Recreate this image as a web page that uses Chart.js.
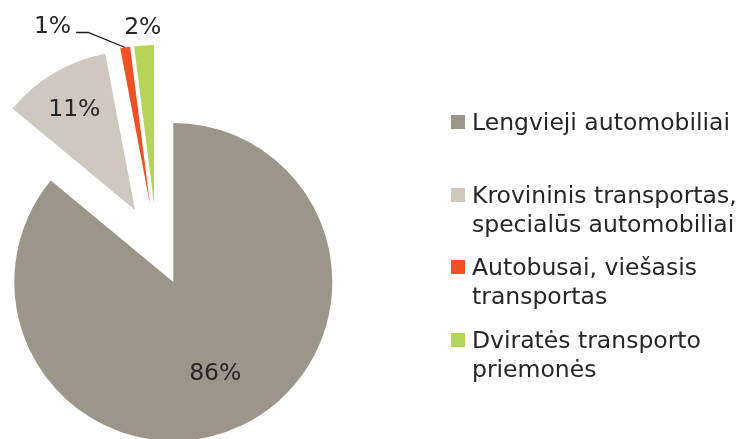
<!DOCTYPE html>
<html>
<head>
<meta charset="utf-8">
<script src="https://cdn.jsdelivr.net/npm/chart.js@4/dist/chart.umd.min.js"></script>
<style>
  body { margin: 0; background: #fff; }
  #wrap { position: relative; width: 744px; height: 439px; overflow: hidden; }
  #legend { position: absolute; left: 451px; top: 0; }
  .item { position: absolute; left: 0; width: 293px; }
  .box { position: absolute; left: 0; top: 6.6px; width: 14px; height: 14px; }
  .txt { margin-left: 21px; font: 23.5px "DejaVu Sans", Verdana, sans-serif; line-height: 29px;
         color: #262626; white-space: pre-line; }
</style>
</head>
<body>
<div id="wrap">
  <canvas id="pie" width="744" height="439"></canvas>
  <div id="legend"></div>
</div>
<script>
// categories and their shares (%)
var categories = [
  'Lengvieji automobiliai',
  'Krovininis transportas,\nspecialūs automobiliai',
  'Autobusai, viešasis\ntransportas',
  'Dviratės transporto\npriemonės'
];
var shares = [86, 11, 1, 2];
var colors = ['#9d948a', '#d0c8be', '#ef5124', '#b4d45a'];

// html legend
var legend = document.getElementById('legend');
var legendTops = [108.4, 181.4, 253.4, 326.4];
categories.forEach(function (c, i) {
  var item = document.createElement('div');
  item.className = 'item';
  item.style.top = legendTops[i] + 'px';
  item.innerHTML = '<span class="box" style="background:' + colors[i] + '"></span>';
  var t = document.createElement('div');
  t.className = 'txt';
  t.textContent = c;
  item.appendChild(t);
  legend.appendChild(item);
});

// pulls every slice away from the centre and writes the percent labels
var explodePlugin = {
  id: 'explode',
  beforeDatasetsDraw: function (chart, args, opts) {
    var arcs = chart.getDatasetMeta(0).data;
    arcs.forEach(function (arc, i) {
      var mid = (arc.startAngle + arc.endAngle) / 2;
      var d = opts.distance[i];
      arc._dx = Math.cos(mid) * d;
      arc._dy = Math.sin(mid) * d;
      arc.x += arc._dx;
      arc.y += arc._dy;
    });
  },
  afterDatasetsDraw: function (chart, args, opts) {
    var ctx = chart.ctx;
    var meta = chart.getDatasetMeta(0);
    var total = shares.reduce(function (a, b) { return a + b; }, 0);
    var size = 23.5;
    ctx.save();
    ctx.font = size + 'px "DejaVu Sans", Verdana, sans-serif';
    ctx.fillStyle = '#262626';
    ctx.textBaseline = 'alphabetic';
    meta.data.forEach(function (arc, i) {
      var mid = (arc.startAngle + arc.endAngle) / 2;
      var p = opts.labels[i];
      var r = arc.outerRadius * p.f;
      var x = arc.x + Math.cos(mid) * r;
      var y = arc.y + Math.sin(mid) * r;
      var text = Math.round(shares[i] / total * 100) + '%';
      if (p.callout) {
        var ex = x + p.callout[0], ey = y + p.callout[1];
        var hx = ex + p.callout[2];
        ctx.strokeStyle = '#1a1a1a';
        ctx.lineWidth = 1.3;
        ctx.beginPath();
        ctx.moveTo(x, y);
        ctx.lineTo(ex, ey);
        ctx.lineTo(hx, ey);
        ctx.stroke();
        ctx.textAlign = 'right';
        ctx.fillText(text, hx - 5, ey + 1);
      } else {
        ctx.textAlign = 'center';
        ctx.fillText(text, x, y + size * 0.3645);
      }
    });
    ctx.restore();
    meta.data.forEach(function (arc) {
      arc.x -= arc._dx;
      arc.y -= arc._dy;
    });
  }
};

new Chart(document.getElementById('pie').getContext('2d'), {
  type: 'pie',
  data: {
    labels: categories,
    datasets: [{
      data: shares,
      backgroundColor: colors,
      borderWidth: 0,
      radius: 159
    }]
  },
  options: {
    responsive: false,
    animation: false,
    events: [],
    layout: {
      padding: { left: 0, right: 430.6, top: 54.2, bottom: 0 }
    },
    plugins: {
      legend: { display: false },
      tooltip: { enabled: false },
      explode: {
        distance: [39, 42.6, 42.6, 42.6],
        labels: [
          { f: 0.62 },
          { f: 0.75 },
          { f: 1.0, callout: [-37, -15, -12] },
          { f: 1.126 }
        ]
      }
    }
  },
  plugins: [explodePlugin]
});
</script>
</body>
</html>
